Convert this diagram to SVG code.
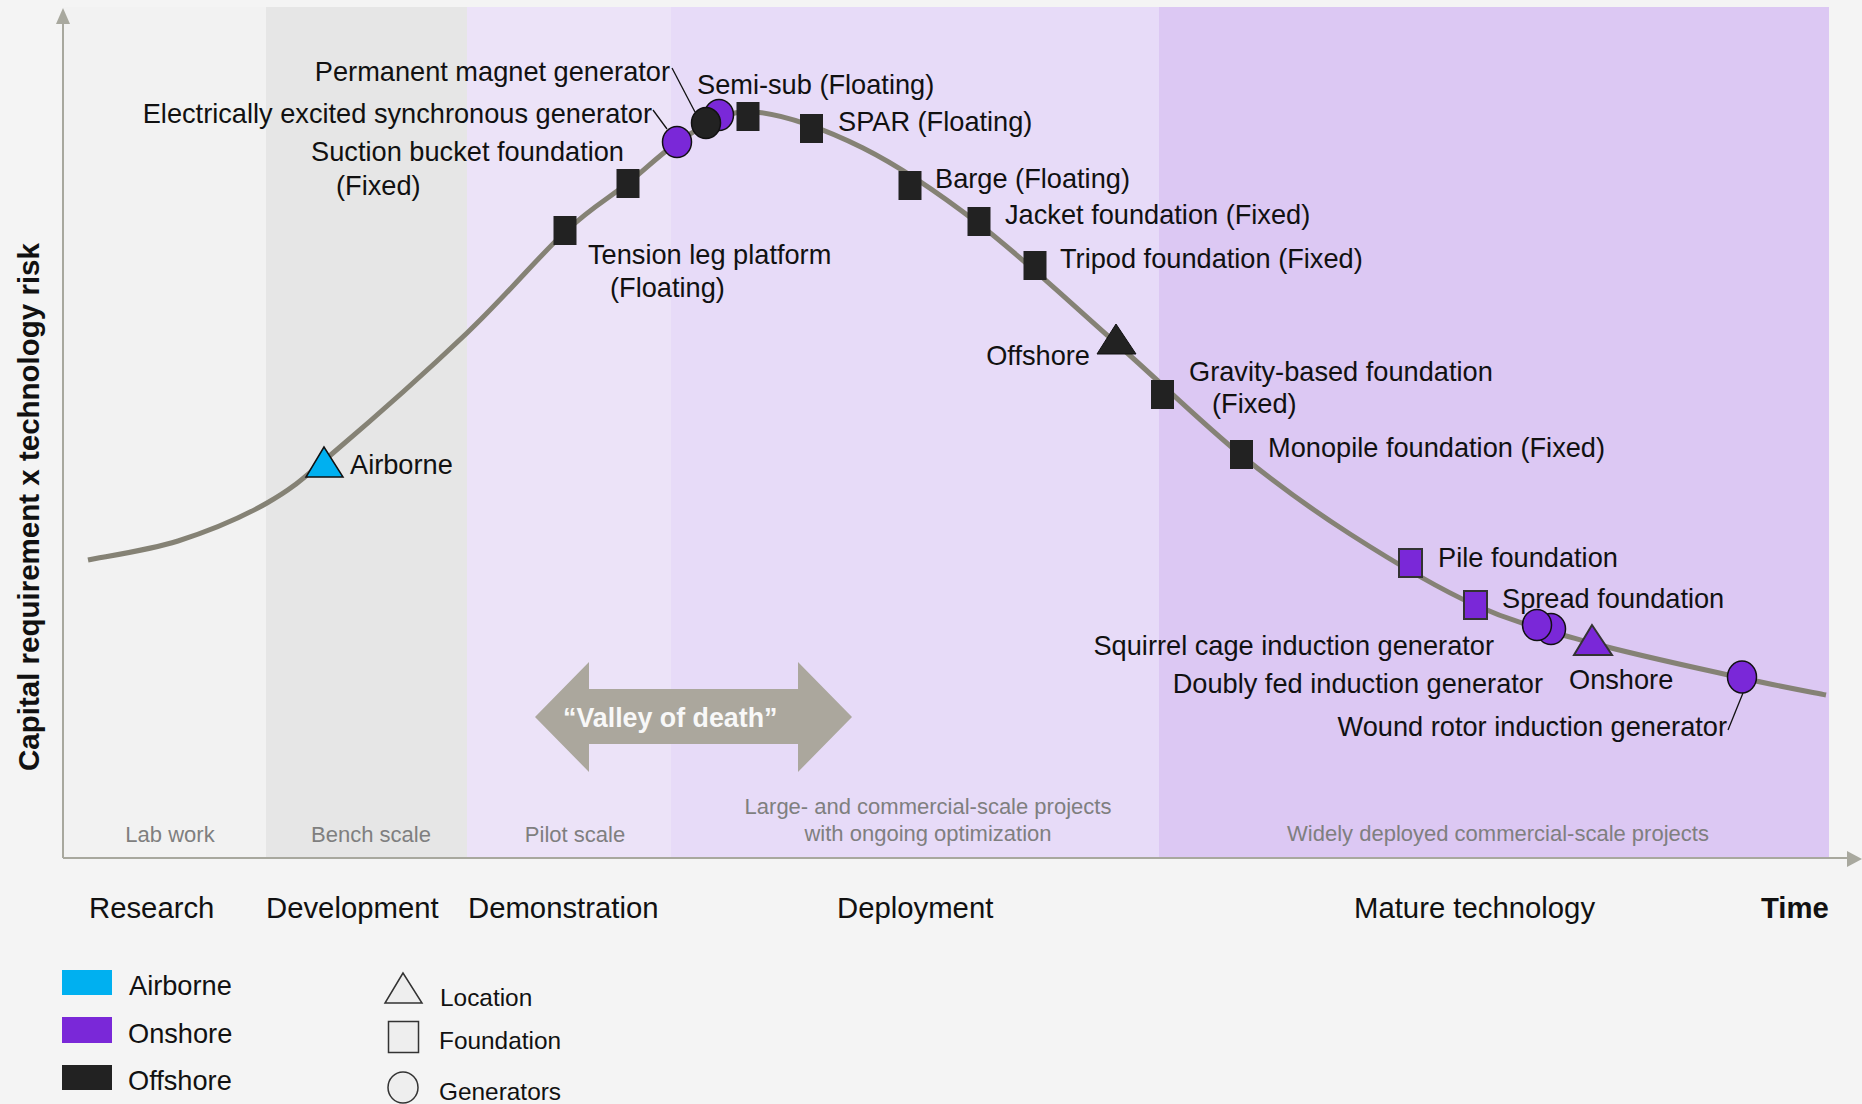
<svg xmlns="http://www.w3.org/2000/svg" width="1862" height="1104" viewBox="0 0 1862 1104">
<style>
text{font-family:"Liberation Sans",Arial,sans-serif;}
.lbl{font-size:27.2px;fill:#111;}
.phase{font-size:29.3px;fill:#111;}
.band{font-size:22px;fill:#7f7f7f;text-anchor:middle;}
.leg{font-size:24.4px;fill:#111;}
.sqK{fill:#222;}
.sqP{fill:#7a28d8;stroke:#333;stroke-width:2;}
.ciK{fill:#222;stroke:#111;stroke-width:1.5;}
.ciP{fill:#7a28d8;stroke:#111;stroke-width:1.5;}
.lead{stroke:#111;stroke-width:1.3;fill:none;}
.axis{stroke:#a8a89e;stroke-width:2;fill:none;}
</style>
<rect x="0" y="0" width="1862" height="1104" fill="#f4f4f4"/>
<g id="bands">
<rect x="63" y="7" width="203" height="851" fill="#f2f2f2"/>
<rect x="266" y="7" width="201" height="851" fill="#e6e6e6"/>
<rect x="467" y="7" width="204" height="851" fill="#ece3f8"/>
<rect x="671" y="7" width="488" height="851" fill="#e7dbf8"/>
<rect x="1159" y="7" width="670" height="851" fill="#dcc8f3"/>
<text class="band" x="170" y="842">Lab work</text>
<text class="band" x="371" y="842">Bench scale</text>
<text class="band" x="575" y="842">Pilot scale</text>
<text class="band" x="928" y="814">Large- and commercial-scale projects</text>
<text class="band" x="928" y="841">with ongoing optimization</text>
<text class="band" x="1498" y="841">Widely deployed commercial-scale projects</text>
</g>
<g id="axes">
<line class="axis" x1="63" y1="858" x2="63" y2="22"/>
<polygon points="63,8 56,24 70,24" fill="#a8a89e"/>
<line class="axis" x1="63" y1="858" x2="1849" y2="858"/>
<polygon points="1862,859 1847,851 1847,867" fill="#a8a89e"/>
<text x="39" y="507" transform="rotate(-90 39 507)" text-anchor="middle" font-size="29.5" font-weight="bold" fill="#111">Capital requirement x technology risk</text>
</g>
<g id="valley">
<polygon points="535,717 589,662 589,689 798,689 798,662 852,717 798,772 798,744 589,744 589,772" fill="#aba79d"/>
<text x="563" y="727" font-size="26.8" font-weight="bold" fill="#f8f8f8">“Valley of death”</text>
</g>
<g id="phases">
<text class="phase" x="89" y="918">Research</text>
<text class="phase" x="266" y="918">Development</text>
<text class="phase" x="468" y="918">Demonstration</text>
<text class="phase" x="837" y="918">Deployment</text>
<text class="phase" x="1354" y="918">Mature technology</text>
<text class="phase" x="1761" y="918" font-weight="bold">Time</text>
</g>
<g id="curve">
<path d="M88,560 C103,556.8 148.2,550.5 178,541 C207.8,531.5 241.2,517.7 267,503 C292.8,488.3 299.7,481.3 333,453 C366.3,424.7 428.3,369.8 467,333 C505.7,296.2 538.2,257 565,232 C591.8,207 607.2,199.3 628,183 C648.8,166.7 668.8,145.8 690,134 C711.2,122.2 726.2,109.7 755,112 C783.8,114.3 825.7,129.3 863,148 C900.3,166.7 936.8,191.5 979,224 C1021.2,256.5 1072.3,304.5 1116,343 C1159.7,381.5 1202,423.2 1241,455 C1280,486.8 1311,509 1350,534 C1389,559 1434.7,586.8 1475,605 C1515.3,623.2 1547.5,630.8 1592,643 C1636.5,655.2 1703,669.3 1742,678 C1781,686.7 1812,692.2 1826,695" fill="none" stroke="#858275" stroke-width="5"/>
</g>
<g id="connectors">
<line class="lead" x1="672" y1="68" x2="695" y2="112"/>
<line class="lead" x1="653" y1="110" x2="667" y2="129"/>
<line class="lead" x1="1743" y1="693" x2="1728" y2="730"/>
</g>
<g id="airborne">
<polygon points="324,447 306,477 343,477" fill="#00b0f0" stroke="#111" stroke-width="1.5"/>
<text class="lbl" x="350" y="474">Airborne</text>
</g>
<g id="tension-leg">
<rect class="sqK" x="553.5" y="216" width="23" height="29"/>
<text class="lbl" x="588" y="264">Tension leg platform</text>
<text class="lbl" x="610" y="297">(Floating)</text>
</g>
<g id="suction-bucket">
<rect class="sqK" x="616.5" y="169" width="23" height="29"/>
<text class="lbl" x="624" y="161" text-anchor="end">Suction bucket foundation</text>
<text class="lbl" x="336" y="195">(Fixed)</text>
</g>
<g id="eesg">
<ellipse class="ciP" cx="677" cy="142" rx="14.5" ry="15.5"/>
<text class="lbl" x="652" y="123" text-anchor="end">Electrically excited synchronous generator</text>
</g>
<g id="pmg">
<ellipse class="ciP" cx="719" cy="115" rx="14.5" ry="15.5"/>
<ellipse class="ciK" cx="706" cy="123" rx="14.5" ry="15.5"/>
<text class="lbl" x="670" y="81" text-anchor="end">Permanent magnet generator</text>
</g>
<g id="semi-sub">
<rect class="sqK" x="736.5" y="102" width="23" height="29"/>
<text class="lbl" x="697" y="94">Semi-sub (Floating)</text>
</g>
<g id="spar">
<rect class="sqK" x="800" y="114" width="23" height="29"/>
<text class="lbl" x="838" y="131">SPAR (Floating)</text>
</g>
<g id="barge">
<rect class="sqK" x="898.5" y="171" width="23" height="29"/>
<text class="lbl" x="935" y="188">Barge (Floating)</text>
</g>
<g id="jacket">
<rect class="sqK" x="967.5" y="207" width="23" height="29"/>
<text class="lbl" x="1005" y="224">Jacket foundation (Fixed)</text>
</g>
<g id="tripod">
<rect class="sqK" x="1023.5" y="251" width="23" height="29"/>
<text class="lbl" x="1060" y="268">Tripod foundation (Fixed)</text>
</g>
<g id="offshore">
<polygon points="1116,324 1097,354 1136,354" fill="#222" stroke="#111" stroke-width="1"/>
<text class="lbl" x="1090" y="365" text-anchor="end">Offshore</text>
</g>
<g id="gravity">
<rect class="sqK" x="1151" y="380" width="23" height="29"/>
<text class="lbl" x="1189" y="381">Gravity-based foundation</text>
<text class="lbl" x="1212" y="413">(Fixed)</text>
</g>
<g id="monopile">
<rect class="sqK" x="1230" y="440" width="23" height="29"/>
<text class="lbl" x="1268" y="457">Monopile foundation (Fixed)</text>
</g>
<g id="pile">
<rect class="sqP" x="1399" y="549" width="23" height="28"/>
<text class="lbl" x="1438" y="567">Pile foundation</text>
</g>
<g id="spread">
<rect class="sqP" x="1464" y="591" width="23" height="28"/>
<text class="lbl" x="1502" y="608">Spread foundation</text>
</g>
<g id="induction">
<ellipse class="ciP" cx="1551" cy="629" rx="14.5" ry="15.5"/>
<ellipse class="ciP" cx="1537" cy="625" rx="14.5" ry="15.5"/>
<text class="lbl" x="1494" y="655" text-anchor="end">Squirrel cage induction generator</text>
<text class="lbl" x="1543" y="693" text-anchor="end">Doubly fed induction generator</text>
</g>
<g id="onshore">
<polygon points="1592,625 1574,655 1612,655" fill="#7a28d8" stroke="#333" stroke-width="2"/>
<text class="lbl" x="1569" y="689">Onshore</text>
</g>
<g id="wound-rotor">
<ellipse class="ciP" cx="1742" cy="677" rx="14.5" ry="16"/>
<text class="lbl" x="1727" y="736" text-anchor="end">Wound rotor induction generator</text>
</g>
<g id="legend-colors">
<rect x="62" y="970" width="50" height="25" fill="#00b0f0"/>
<text class="lbl" x="129" y="995">Airborne</text>
<rect x="62" y="1017" width="50" height="26" fill="#7a28d8"/>
<text class="lbl" x="128" y="1043">Onshore</text>
<rect x="62" y="1065" width="50" height="25" fill="#222"/>
<text class="lbl" x="128" y="1090">Offshore</text>
</g>
<g id="legend-shapes">
<polygon points="403,973 385,1003 422,1003" fill="#eeeeee" stroke="#333" stroke-width="1.5"/>
<text class="leg" x="440" y="1006">Location</text>
<rect x="388.5" y="1021.5" width="30" height="31" fill="#eeeeee" stroke="#333" stroke-width="1.5"/>
<text class="leg" x="439" y="1049">Foundation</text>
<ellipse cx="403" cy="1087.5" rx="15" ry="15.5" fill="#eeeeee" stroke="#333" stroke-width="1.5"/>
<text class="leg" x="439" y="1100">Generators</text>
</g>
</svg>
